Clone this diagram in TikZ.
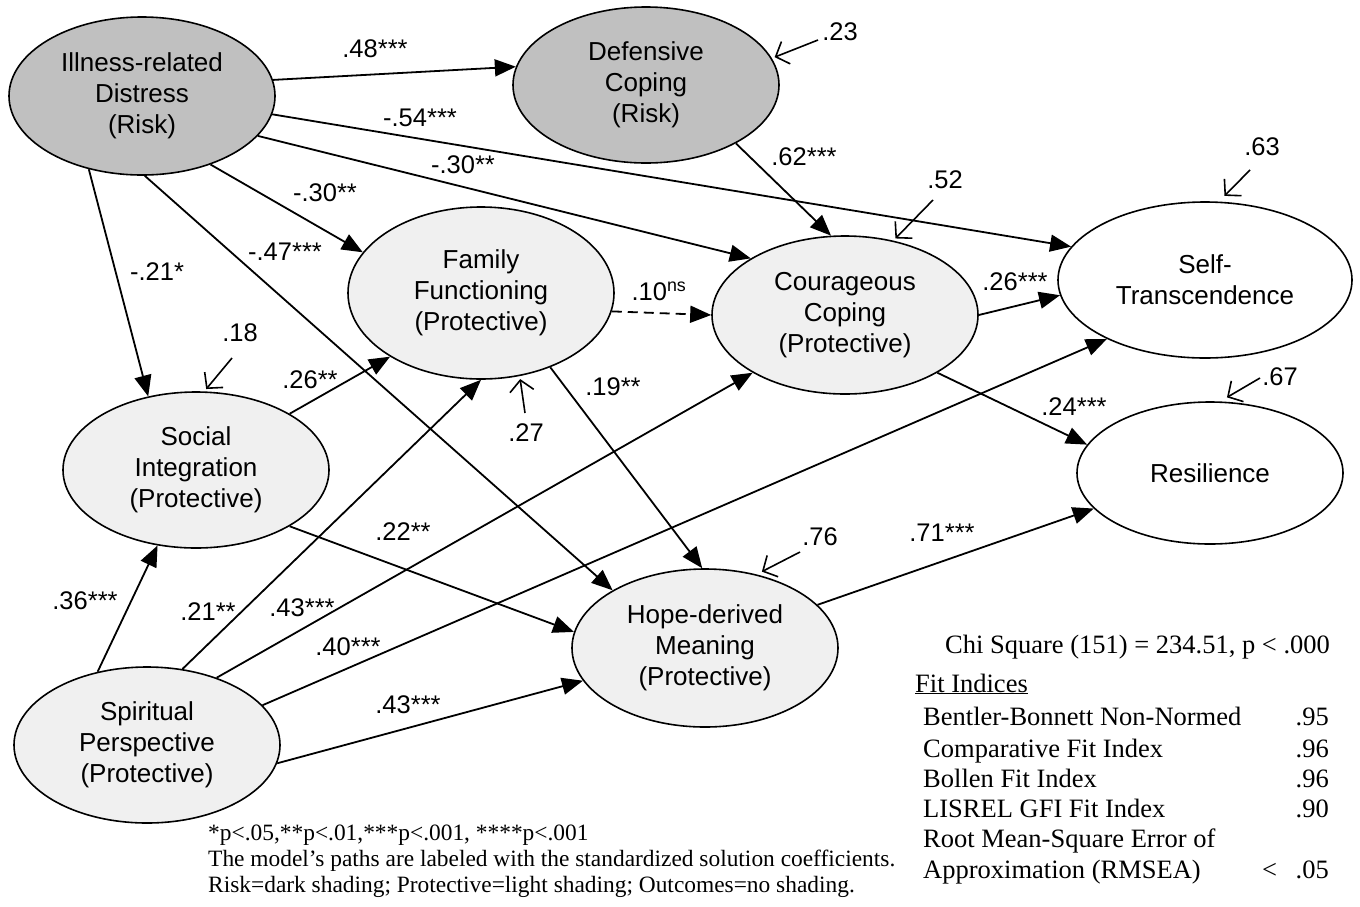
\documentclass[tikz,border=0pt]{standalone}
\usepackage{fontspec}
\setmainfont{Liberation Serif}
\setsansfont{Liberation Sans}
\usetikzlibrary{shapes.geometric,arrows.meta}
\definecolor{darkfill}{RGB}{192,192,192}
\definecolor{lightfill}{RGB}{240,240,240}
\tikzset{
  lat/.style={ellipse,draw=black,line width=1.6pt,inner sep=0pt,align=center,
    font=\sffamily\fontsize{26}{31}\selectfont},
  riskn/.style={lat,fill=darkfill},
  protn/.style={lat,fill=lightfill},
  outn/.style={lat,fill=white},
  pth/.style={line width=1.8pt,-{Triangle[length=21pt,width=17pt]}},
  res/.style={line width=1.6pt,-{Straight Barb[length=11pt,width=24pt]},shorten >=3pt},
  coef/.style={font=\sffamily\fontsize{25.5}{30}\selectfont,inner sep=0pt},
  fitt/.style={font=\fontsize{26.5}{30}\selectfont,inner sep=0pt,anchor=base west},
  fitv/.style={font=\fontsize{26.5}{30}\selectfont,inner sep=0pt,anchor=base east},
  note/.style={font=\fontsize{23.4}{26}\selectfont,inner sep=0pt,anchor=base west},
}
\begin{document}
\begin{tikzpicture}[x=1pt,y=-1pt]
\useasboundingbox[fill=white] (0,0) rectangle (1360,906);

% latent variables
\node[riskn,minimum width=266pt,minimum height=158pt] (ill) at (142,96) {Illness-related\\Distress\\(Risk)};
\node[riskn,minimum width=266pt,minimum height=156pt] (def) at (646,85) {Defensive\\Coping\\(Risk)};
\node[protn,minimum width=266pt,minimum height=172pt] (fam) at (481,293) {Family\\Functioning\\(Protective)};
\node[protn,minimum width=266pt,minimum height=158pt] (cour) at (845,315) {Courageous\\Coping\\(Protective)};
\node[outn,minimum width=294pt,minimum height=156pt] (selft) at (1205,280) {Self-\\Transcendence};
\node[outn,minimum width=266pt,minimum height=142pt] (resil) at (1210,473) {Resilience};
\node[protn,minimum width=266pt,minimum height=156pt] (soc) at (196,470) {Social\\Integration\\(Protective)};
\node[protn,minimum width=266pt,minimum height=158pt] (hope) at (705,648) {Hope-derived\\Meaning\\(Protective)};
\node[protn,minimum width=266pt,minimum height=156pt] (spir) at (147,745) {Spiritual\\Perspective\\(Protective)};

% structural paths
\draw[pth] (ill.7.3) -- (def.172.3);
\draw[pth] (ill.-8.5) -- (selft.166.9);
\draw[pth] (ill.-19.6) -- (cour.149.4);
\draw[pth] (ill.-45) -- (fam.161.3);
\draw[pth] (ill.-88.6) -- (hope.148.3);
\draw[pth] (ill.-126) -- (soc.123.2);
\draw[pth] (def.-33.1) -- (cour.100.9);
\draw[pth,dashed,dash pattern=on 10pt off 6pt] (fam.-8.9) -- (cour.180);
\draw[pth] (fam.-47) -- (hope.92.1);
\draw[pth] (cour.0) -- (selft.186.6);
\draw[pth] (cour.-32.2) -- (resil.167.8);
\draw[pth] (soc.31.2) -- (fam.-145.7);
\draw[pth] (soc.-31.5) -- (hope.173);
\draw[pth] (spir.124.6) -- (soc.-117.1);
\draw[pth] (spir.65.6) -- (fam.-90.6);
\draw[pth] (spir.44.6) -- (cour.-148.5);
\draw[pth] (spir.19.5) -- (selft.-149.7);
\draw[pth] (spir.-8.7) -- (hope.195.8);
\draw[pth] (hope.21.1) -- (resil.197.7);

% path coefficients
\node[coef] (c48) at (375,49) {.48***};
\node[coef] (c54) at (420,118) {-.54***};
\node[coef] (c30a) at (463,165) {-.30**};
\node[coef] (c30b) at (325,193) {-.30**};
\node[coef] (c47) at (285,252) {-.47***};
\node[coef] (c21) at (157,272) {-.21*};
\node[coef] (c62) at (804,157) {.62***};
\node[coef] (c10) at (659,291) {.10\textsuperscript{ns}};
\node[coef] (c19) at (613,387) {.19**};
\node[coef] (c26a) at (1015,282) {.26***};
\node[coef] (c24) at (1074,407) {.24***};
\node[coef] (c26b) at (310,380) {.26**};
\node[coef] (c22) at (403,532) {.22**};
\node[coef] (c36) at (85,601) {.36***};
\node[coef] (c21b) at (208,612) {.21**};
\node[coef] (c43a) at (302,608) {.43***};
\node[coef] (c40) at (348,647) {.40***};
\node[coef] (c43b) at (408,705) {.43***};
\node[coef] (c71) at (942,533) {.71***};

% residuals
\node[coef] (l23) at (840,32) {.23};
\node[coef] (l52) at (945,180) {.52};
\node[coef] (l63) at (1262,147) {.63};
\node[coef] (l67) at (1280,377) {.67};
\node[coef] (l18) at (240,333) {.18};
\node[coef] (l27) at (526,433) {.27};
\node[coef] (l76) at (820,537) {.76};
\coordinate (r23) at (818,40);
\coordinate (r52) at (933,200);
\coordinate (r63) at (1250,170);
\coordinate (r67) at (1260,378);
\coordinate (r18) at (232,358);
\coordinate (r27) at (525,413);
\coordinate (r76) at (800,552);
\draw[res] (r23) -- (def.12);
\draw[res] (r52) -- (cour.57);
\draw[res,shorten >=8pt] (r63) -- (selft.80);
\draw[res,shorten >=8pt] (r67) -- (resil.82);
\draw[res] (r18) -- (soc.84);
\draw[res] (r27) -- (fam.-65);
\draw[res,shorten >=6pt] (r76) -- (hope.55);

% fit box
\node[fitt] (chi) at (945,653) {Chi Square (151) = 234.51, p < .000};
\node[fitt] (fiti) at (915,692) {\underline{Fit Indices}};
\node[fitt] (f1) at (923,725) {Bentler-Bonnett Non-Normed};
\node[fitt] (f2) at (923,757) {Comparative Fit Index};
\node[fitt] (f3) at (923,787) {Bollen Fit Index};
\node[fitt] (f4) at (923,817) {LISREL GFI Fit Index};
\node[fitt] (f5) at (923,847) {Root Mean-Square Error of};
\node[fitt] (f6) at (923,878) {Approximation (RMSEA)};
\node[fitv] (v1) at (1329,725) {.95};
\node[fitv] (v2) at (1329,757) {.96};
\node[fitv] (v3) at (1329,787) {.96};
\node[fitv] (v4) at (1329,817) {.90};
\node[fitv] (v6) at (1329,878) {.05};
\node[fitt] (lt) at (1262,878) {<};

% footnote
\node[note] (n1) at (208,840) {*p<.05,**p<.01,***p<.001, ****p<.001};
\node[note] (n2) at (208,866) {The model’s paths are labeled with the standardized solution coefficients.};
\node[note] (n3) at (208,892) {Risk=dark shading; Protective=light shading; Outcomes=no shading.};
\end{tikzpicture}
\end{document}
